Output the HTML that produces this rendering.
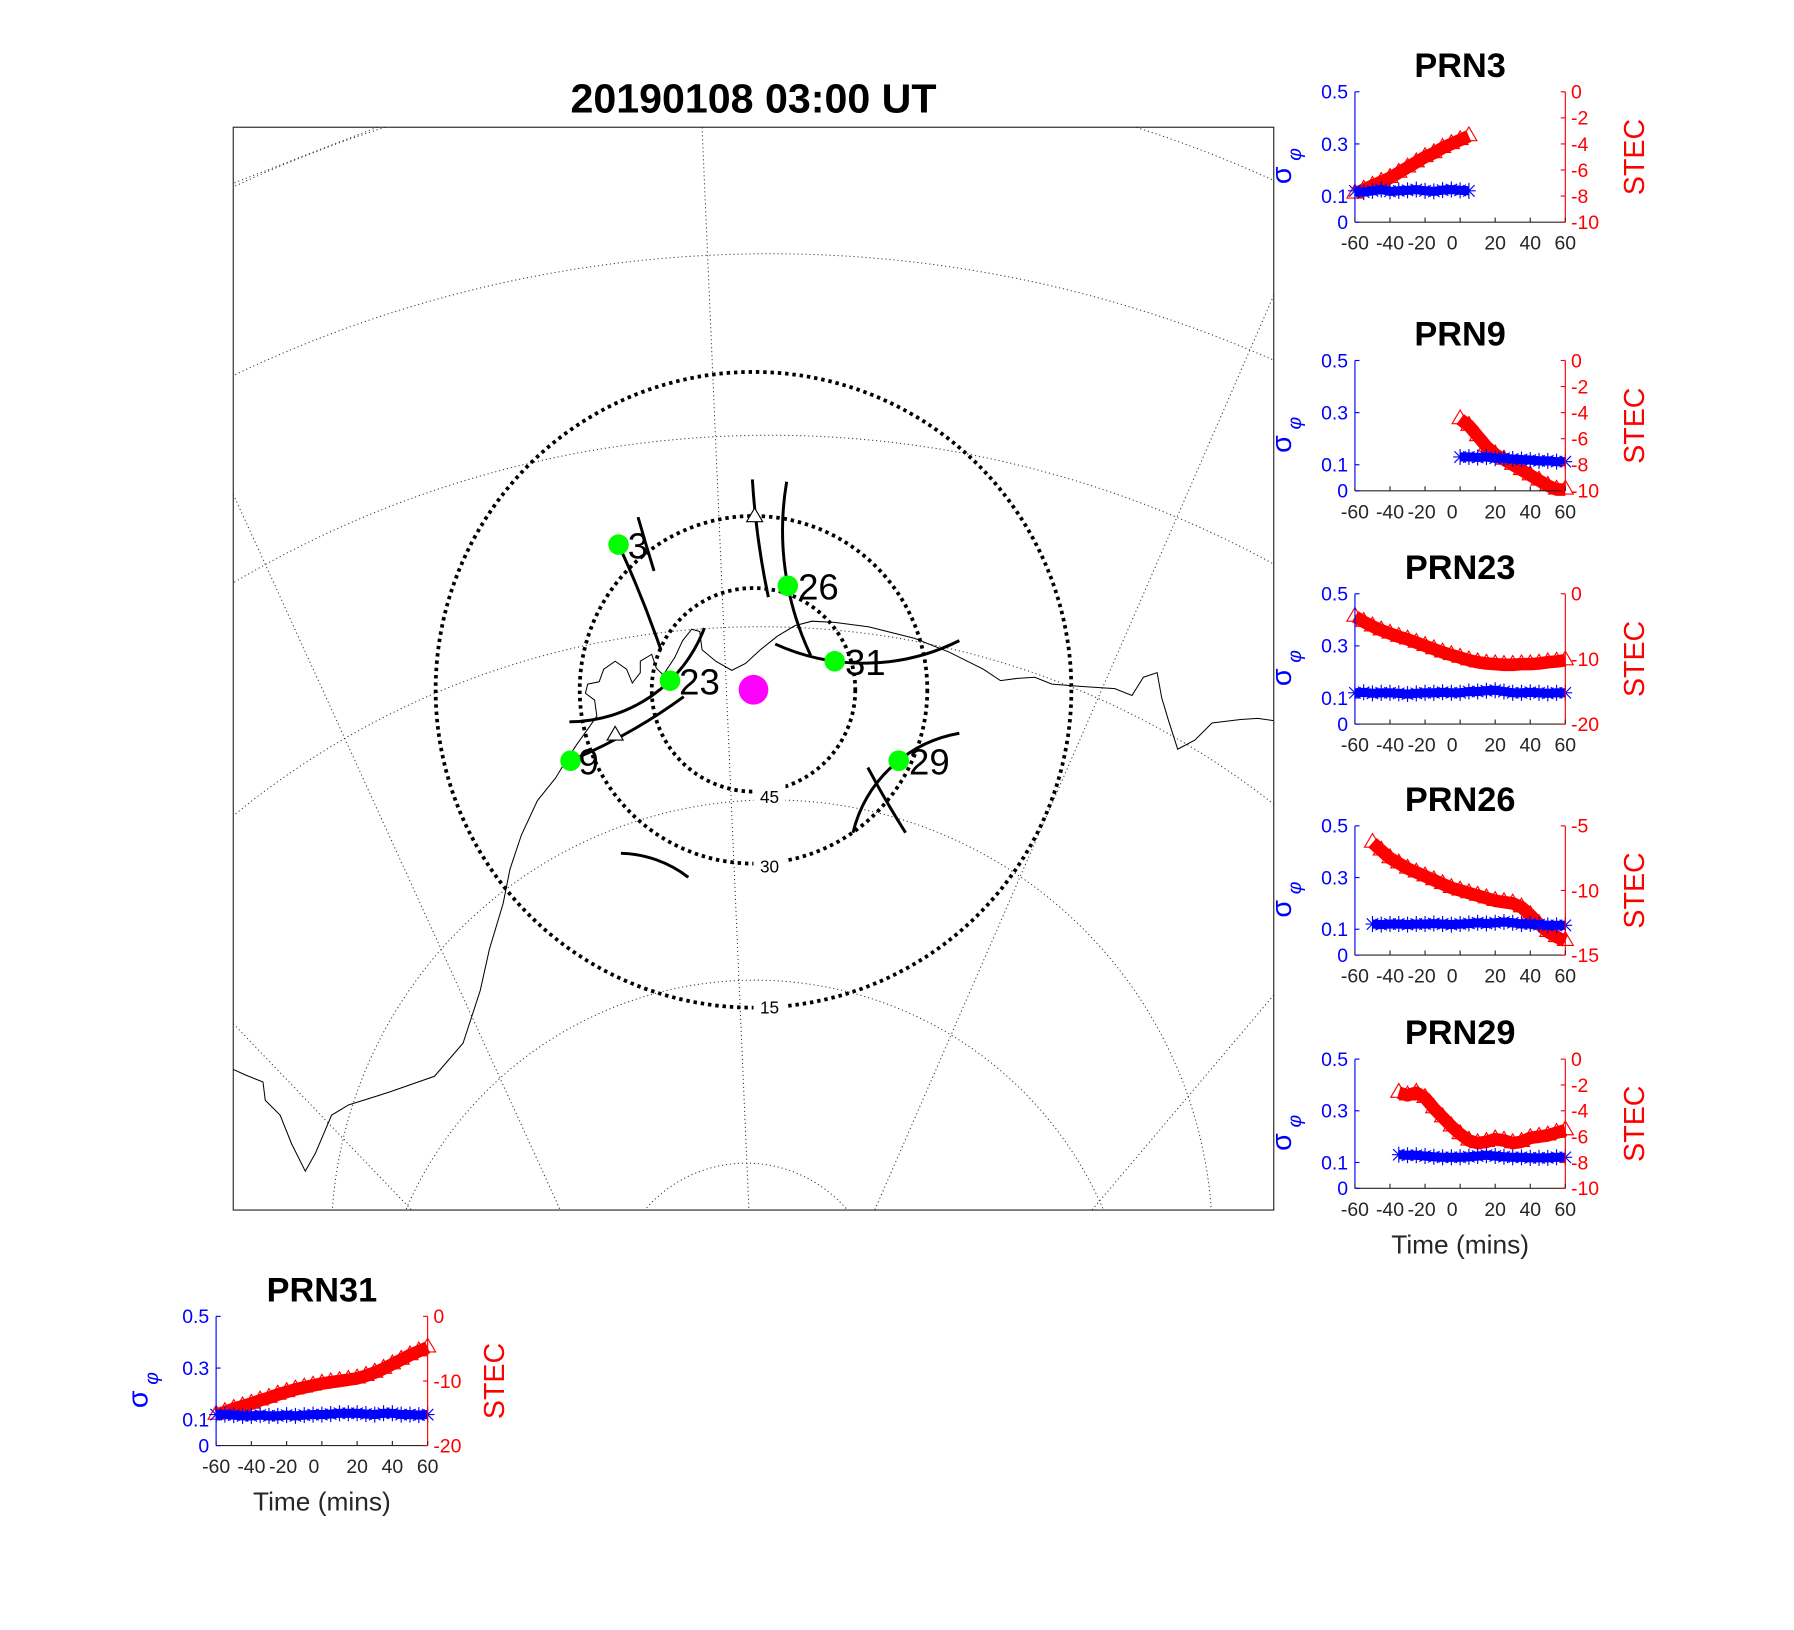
<!DOCTYPE html>
<html><head><meta charset="utf-8"><style>
html,body{margin:0;padding:0;background:#fff}
svg{display:block}
text{font-family:"Liberation Sans",Arial,sans-serif}
</style></head><body>
<svg id="fig" width="1794" height="1630" viewBox="0 0 1569 1425" xmlns="http://www.w3.org/2000/svg">
<rect width="1569" height="1425" fill="#fff"/>
<text x="659" y="98" font-size="36" font-weight="bold" text-anchor="middle">20190108 03:00 UT</text>
<g id="map"></g>
<rect x="204" y="111" width="910" height="947" fill="none" stroke="#262626" stroke-width="1"/>
<g id="panels"></g>
</svg>
<script>
// ---------- panel data ----------
const prn3_tRed = [-60,-55,-50,-45,-40,-35,-30,-25,-20,-15,-10,-5,0,5];
const prn3_stec = [-7.8,-7.5,-7.2,-6.9,-6.6,-6.2,-5.8,-5.4,-5.0,-4.7,-4.3,-4.0,-3.7,-3.4];
const prn3_tSig = [-60,-55,-50,-45,-40,-35,-30,-25,-20,-15,-10,-5,0,5];
const prn3_sig = [0.12,0.115,0.12,0.125,0.118,0.12,0.122,0.125,0.12,0.118,0.123,0.125,0.122,0.12];

const prn9_tRed = [0,5,10,15,20,25,30,35,40,45,50,55,60];
const prn9_stec = [-4.5,-5.0,-5.8,-6.6,-7.2,-7.6,-8.0,-8.4,-8.8,-9.2,-9.6,-9.9,-9.9];
const prn9_tSig = [0,5,10,15,20,25,30,35,40,45,50,55,60];
const prn9_sig = [0.13,0.13,0.128,0.13,0.125,0.125,0.122,0.12,0.118,0.115,0.115,0.112,0.112];

const prn23_tRed = [-60,-55,-50,-45,-40,-35,-30,-25,-20,-15,-10,-5,0,5,10,15,20,25,30,35,40,45,50,55,60];
const prn23_stec = [-3.5,-4.3,-5.0,-5.6,-6.1,-6.6,-7.0,-7.5,-8.0,-8.5,-9.0,-9.4,-9.8,-10.2,-10.5,-10.7,-10.8,-10.9,-10.9,-10.8,-10.8,-10.7,-10.5,-10.4,-10.2];
const prn23_tSig = [-60,-55,-50,-45,-40,-35,-30,-25,-20,-15,-10,-5,0,5,10,15,20,25,30,35,40,45,50,55,60];
const prn23_sig = [0.12,0.122,0.118,0.12,0.12,0.118,0.115,0.118,0.12,0.12,0.122,0.12,0.12,0.125,0.125,0.128,0.13,0.125,0.12,0.12,0.122,0.12,0.118,0.12,0.12];

const prn26_tRed = [-50,-45,-40,-35,-30,-25,-20,-15,-10,-5,0,5,10,15,20,25,30,35,40,45,50,55,60];
const prn26_stec = [-6.3,-6.9,-7.5,-7.9,-8.3,-8.6,-8.9,-9.2,-9.5,-9.8,-10.0,-10.2,-10.4,-10.6,-10.8,-10.9,-11.0,-11.3,-11.9,-12.6,-13.2,-13.6,-13.9];
const prn26_tSig = [-50,-45,-40,-35,-30,-25,-20,-15,-10,-5,0,5,10,15,20,25,30,35,40,45,50,55,60];
const prn26_sig = [0.12,0.118,0.12,0.12,0.118,0.12,0.12,0.122,0.12,0.118,0.12,0.122,0.125,0.122,0.125,0.128,0.125,0.12,0.12,0.118,0.115,0.115,0.115];

const prn29_tRed = [-35,-30,-25,-20,-15,-10,-5,0,5,10,15,20,25,30,35,40,45,50,55,60];
const prn29_stec = [-2.6,-2.8,-2.6,-3.0,-3.8,-4.5,-5.2,-5.8,-6.3,-6.5,-6.4,-6.2,-6.3,-6.5,-6.4,-6.1,-6.0,-5.9,-5.7,-5.5];
const prn29_tSig = [-35,-30,-25,-20,-15,-10,-5,0,5,10,15,20,25,30,35,40,45,50,55,60];
const prn29_sig = [0.13,0.128,0.128,0.125,0.122,0.12,0.12,0.12,0.122,0.125,0.128,0.125,0.122,0.12,0.12,0.118,0.118,0.118,0.12,0.12];

const prn31_tRed = [-60,-55,-50,-45,-40,-35,-30,-25,-20,-15,-10,-5,0,5,10,15,20,25,30,35,40,45,50,55,60];
const prn31_stec = [-15.2,-14.8,-14.3,-13.9,-13.5,-13.0,-12.6,-12.1,-11.7,-11.3,-11.0,-10.7,-10.4,-10.2,-10.0,-9.8,-9.6,-9.2,-8.7,-8.1,-7.4,-6.7,-6.0,-5.4,-4.8];
const prn31_tSig = [-60,-55,-50,-45,-40,-35,-30,-25,-20,-15,-10,-5,0,5,10,15,20,25,30,35,40,45,50,55,60];
const prn31_sig = [0.12,0.12,0.118,0.115,0.115,0.118,0.115,0.115,0.118,0.115,0.118,0.12,0.12,0.122,0.125,0.125,0.125,0.122,0.12,0.125,0.125,0.12,0.12,0.118,0.12];

const xTicks = [-60,-40,-20,0,20,40,60];
const xTickOffsets = [0,0,-3,-7,0,0,0];
const sigTicks = [0,0.1,0.3,0.5];

const NS = "http://www.w3.org/2000/svg";
function mk(tag, attrs, parent){
  const e = document.createElementNS(NS, tag);
  for (const k in attrs) e.setAttribute(k, attrs[k]);
  if (parent) parent.appendChild(e);
  return e;
}

// ---------- map ----------
const map = document.getElementById('map');
function arc3(p1,p2,p3){
  const [x1,y1]=p1,[x2,y2]=p2,[x3,y3]=p3;
  const d=2*(x1*(y2-y3)+x2*(y3-y1)+x3*(y1-y2));
  const ux=((x1*x1+y1*y1)*(y2-y3)+(x2*x2+y2*y2)*(y3-y1)+(x3*x3+y3*y3)*(y1-y2))/d;
  const uy=((x1*x1+y1*y1)*(x3-x2)+(x2*x2+y2*y2)*(x1-x3)+(x3*x3+y3*y3)*(x2-x1))/d;
  const r=Math.hypot(x1-ux,y1-uy);
  const cross=(x2-x1)*(y3-y1)-(y2-y1)*(x3-x1);
  const sweep=cross>0?1:0;
  return `M${x1},${y1} A${r},${r} 0 0 ${sweep} ${x3},${y3}`;
}
const clip = mk('clipPath',{id:'mapclip'},map);
mk('rect',{x:204,y:111,width:910,height:947},clip);
const grid = mk('g',{'clip-path':'url(#mapclip)',fill:'none',stroke:'#333','stroke-width':0.9,'stroke-dasharray':'1 2.5'},map);


const gridArcs = [
  [[190,170],[652,60],[1130,165]],
  [[190,335],[646,222],[1130,322]],
  [[190,518],[640,381],[1130,502]],
  [[190,725],[650,548],[1130,716]],
  [[290,1070],[652,700],[1060,1070]],
  [[350,1070],[655,857],[970,1070]],
  [[555,1070],[655,1017],[750,1070]]
];
gridArcs.forEach(a=>mk('path',{d:arc3(a[0],a[1],a[2])},grid));
const meridians = [[[614,111],[655,1058]],[[204,432],[490,1058]],[[1114,258],[765,1058]],[[204,895],[360,1058]],[[1114,870],[955,1058]],[[330,111],[204,160]]];
meridians.forEach(m=>mk('line',{x1:m[0][0],y1:m[0][1],x2:m[1][0],y2:m[1][1]},grid));

const coast = [[204,935],[215,940],[230,946],[232,962],[245,975],[255,1000],[267,1024],[276,1008],[290,975],[305,966],[340,955],[380,941],[405,912],[420,866],[428,830],[440,790],[446,760],[456,730],[470,700],[486,680],[495,665],[505,650],[515,636],[522,626],[520,612],[512,606],[514,598],[524,596],[528,585],[538,578],[548,585],[553,597],[560,588],[560,578],[570,572],[574,584],[580,590],[590,575],[597,560],[605,550],[612,552],[614,568],[626,578],[640,586],[652,580],[665,568],[680,556],[695,547],[710,543],[730,544],[760,548],[800,558],[830,570],[860,585],[875,595],[890,593],[905,592],[920,598],[945,600],[975,602],[990,608],[1000,592],[1012,588],[1016,610],[1022,630],[1030,655],[1045,647],[1060,632],[1085,629],[1100,628],[1114,630]];
const cl = mk('polyline',{points:coast.map(p=>p.join(',')).join(' '),fill:'none',stroke:'#000','stroke-width':0.9,'clip-path':'url(#mapclip)'},map);



const C=[659,603];
const rings=[[89,'45',697],[152,'30',758],[278,'15',881]];
rings.forEach(r=>{
  const c=mk('circle',{cx:C[0],cy:C[1],r:r[0],fill:'none',stroke:'#000','stroke-width':3.3,'stroke-dasharray':'3 3.4'},map);
  
  
  mk('rect',{x:659,y:r[2]-12,width:28,height:16,fill:'#fff'},map);
  const t=mk('text',{x:673,y:r[2]+5,'font-size':15,'text-anchor':'middle'},map);
  t.textContent=r[1];
  
  
});

const tracks=[
  [[541,476],[560,520],[578,568]],
  [[558,452],[565,476],[572,499]],
  [[658,419],[663,470],[672,522]],
  [[688,421],[689,512],[709,573]],
  [[769,504],[781,493],[793,482]],
  [[678,563],[730,578],[839,560]],
  [[498,631],[586,595],[616,549]],
  [[598,609],[570,628],[499,665]],
  [[839,641],[786,665],[746,728]],
  [[759,671],[775,700],[792,728]],
  [[543,746],[572,751],[602,767]]
];
tracks.forEach((t,i)=>{
  const p=mk('path',{d:arc3(t[0],t[1],t[2]),fill:'none',stroke:'#000','stroke-width':2.6},map);
  
  
});
[[660,452],[538,643]].forEach(p=>{
  const tr=mk('polygon',{points:`${p[0]},${p[1]-8} ${p[0]-7},${p[1]+4} ${p[0]+7},${p[1]+4}`,fill:'#fff',stroke:'#000','stroke-width':1},map);
  
  
});
const sats=[['3',541,476,549],['26',689,512,698],['31',730,578,739],['23',586,595,594],['9',499,665,506],['29',786,665,795]];
sats.forEach(s=>{
  const c=mk('circle',{cx:s[1],cy:s[2],r:9,fill:'#00ff00'},map);
  
  
  const t=mk('text',{x:s[3],y:s[2]+12,'font-size':32},map);
  t.textContent=s[0];
  
  
});
const st=mk('circle',{cx:659,cy:603,r:13,fill:'#ff00ff'},map);



// ---------- panels ----------
const panelsG=document.getElementById('panels');
function panel(name,x0,x1,y0,y1,rmin,rmax,rticks,tRed,stec,tSig,sig,timeLabel,sigX,stecX){
  const g=mk('g',{},panelsG);
  
  
  const xs=t=>x0+(t+60)/120*(x1-x0);
  const ys=v=>y1-v/0.5*(y1-y0);
  const yr=v=>y1-(v-rmin)/(rmax-rmin)*(y1-y0);
  const title=mk('text',{x:(x0+x1)/2,y:y0-13,'font-size':30,'font-weight':'bold','text-anchor':'middle'},g);
  title.textContent=name;
  
  
  const rs=mk('g',{},g);
  
  
  mk('polyline',{points:tRed.map((t,i)=>xs(t)+','+yr(stec[i])).join(' '),fill:'none',stroke:'#ff0000','stroke-width':11,'stroke-linejoin':'round'},rs);
  tRed.forEach((t,i)=>{const x=xs(t),y=yr(stec[i]);
    mk('polygon',{points:`${x},${y-8} ${x-7},${y+4} ${x+7},${y+4}`,fill:'none',stroke:'#ff0000','stroke-width':1},rs);});
  const bs=mk('g',{},g);
  
  
  mk('polyline',{points:tSig.map((t,i)=>xs(t)+','+ys(sig[i])).join(' '),fill:'none',stroke:'#0000ff','stroke-width':8},bs);
  tSig.forEach((t,i)=>{const x=xs(t),y=ys(sig[i]);
    mk('path',{d:`M${x-6},${y}h12M${x},${y-7}v14M${x-5},${y-5}l10,10M${x-5},${y+5}l10,-10`,stroke:'#0000ff','stroke-width':1},bs);});
  mk('line',{x1:x0,y1:y1,x2:x1,y2:y1,stroke:'#262626','stroke-width':1},g);
  mk('line',{x1:x0,y1:y0,x2:x0,y2:y1,stroke:'#0000ff','stroke-width':1},g);
  mk('line',{x1:x1,y1:y0,x2:x1,y2:y1,stroke:'#ff0000','stroke-width':1},g);
  xTicks.forEach((t,i)=>{
    mk('line',{x1:xs(t),y1:y1,x2:xs(t),y2:y1-4,stroke:'#262626','stroke-width':1},g);
    const l=mk('text',{x:xs(t)+xTickOffsets[i],y:y1+24,'font-size':17,fill:'#262626','text-anchor':'middle'},g);
    l.textContent=t;
  });
  sigTicks.forEach(v=>{
    mk('line',{x1:x0,y1:ys(v),x2:x0+4,y2:ys(v),stroke:'#0000ff','stroke-width':1},g);
    const l=mk('text',{x:x0-6,y:ys(v)+6,'font-size':17,fill:'#0000ff','text-anchor':'end'},g);
    l.textContent=v;
  });
  rticks.forEach(v=>{
    mk('line',{x1:x1,y1:yr(v),x2:x1-4,y2:yr(v),stroke:'#ff0000','stroke-width':1},g);
    const l=mk('text',{x:x1+5,y:yr(v)+6,'font-size':17,fill:'#ff0000'},g);
    l.textContent=v;
  });
  const ym=(y0+y1)/2;
  const sl=mk('text',{transform:`translate(${sigX},${ym+8}) rotate(-90)`,'font-size':25,fill:'#0000ff','text-anchor':'middle'},g);
  sl.innerHTML='σ<tspan font-size="17" font-style="italic" dx="5" dy="9">φ</tspan>';
  
  
  const rl=mk('text',{transform:`translate(${stecX},${ym}) rotate(-90)`,'font-size':25,fill:'#ff0000','text-anchor':'middle'},g);
  rl.textContent='STEC';
  
  
  if(timeLabel){
    const tl=mk('text',{x:(x0+x1)/2,y:y1+57,'font-size':23,fill:'#262626','text-anchor':'middle'},g);
    tl.textContent='Time (mins)';
    
    
  }
}
panel('PRN3',1185,1369,80,194,-10,0,[0,-2,-4,-6,-8,-10],prn3_tRed,prn3_stec,prn3_tSig,prn3_sig,false,1129,1438);
panel('PRN9',1185,1369,315,429,-10,0,[0,-2,-4,-6,-8,-10],prn9_tRed,prn9_stec,prn9_tSig,prn9_sig,false,1129,1438);
panel('PRN23',1185,1369,519,633,-20,0,[0,-10,-20],prn23_tRed,prn23_stec,prn23_tSig,prn23_sig,false,1129,1438);
panel('PRN26',1185,1369,722,835,-15,-5,[-5,-10,-15],prn26_tRed,prn26_stec,prn26_tSig,prn26_sig,false,1129,1438);
panel('PRN29',1185,1369,926,1039,-10,0,[0,-2,-4,-6,-8,-10],prn29_tRed,prn29_stec,prn29_tSig,prn29_sig,true,1129,1438);
panel('PRN31',189,374,1151,1264,-20,0,[0,-10,-20],prn31_tRed,prn31_stec,prn31_tSig,prn31_sig,true,129,441);
</script>
</body></html>
